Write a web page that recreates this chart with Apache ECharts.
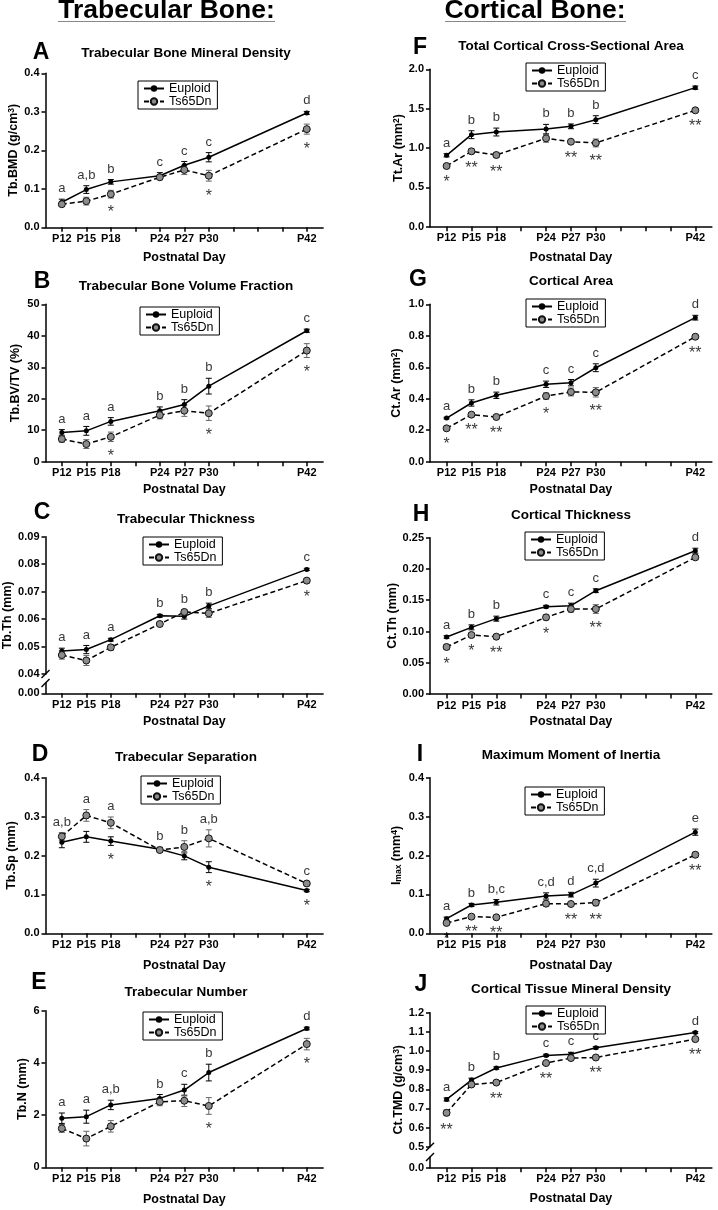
<!DOCTYPE html>
<html><head><meta charset="utf-8">
<script src="https://cdn.jsdelivr.net/npm/echarts@6/dist/echarts.min.js"></script>
<style>html,body{margin:0;padding:0;background:#fff}#c{width:718px;height:1210px}</style>
</head><body><div id="c"></div>
<script>
// ---------------- data ----------------
const days = [12, 15, 18, 24, 27, 30, 42];
const tickDays = [12, 15, 18, 21, 24, 27, 30, 33, 36, 39, 42];
const labelDays = [12, 15, 18, 24, 27, 30, 42];
const seriesNames = ['Euploid', 'Ts65Dn'];
const xAxisTitle = 'Postnatal Day';
const headers = ['Trabecular Bone:', 'Cortical Bone:'];

// A Trabecular Bone Mineral Density
const bmdEu = [0.065, 0.098, 0.118, 0.134, 0.161, 0.182, 0.297];
const bmdEuErr = [0.008, 0.010, 0.006, 0.008, 0.010, 0.012, 0.004];
const bmdTs = [0.060, 0.068, 0.086, 0.130, 0.149, 0.134, 0.255];
const bmdTsErr = [0.006, 0.010, 0.010, 0.006, 0.012, 0.014, 0.013];
const bmdLetters = ['a', 'a,b', 'b', 'c', 'c', 'c', 'd'];
const bmdStars = ['', '', '*', '', '', '*', '*'];

// B Trabecular Bone Volume Fraction
const bvEu = [9.3, 9.8, 12.8, 16.2, 18.2, 24.0, 41.6];
const bvEuErr = [0.9, 1.4, 1.2, 1.2, 1.5, 2.5, 0.5];
const bvTs = [7.2, 5.6, 7.9, 14.8, 16.2, 15.4, 35.3];
const bvTsErr = [1.0, 1.4, 1.5, 1.2, 1.8, 2.3, 2.2];
const bvLetters = ['a', 'a', 'a', 'b', 'b', 'b', 'c'];
const bvStars = ['', '', '*', '', '', '*', '*'];

// C Trabecular Thickness
const tbthEu = [0.0484, 0.0489, 0.0525, 0.0612, 0.0610, 0.0648, 0.0781];
const tbthEuErr = [0.0010, 0.0015, 0.0005, 0.0005, 0.0010, 0.0010, 0.0004];
const tbthTs = [0.0469, 0.0449, 0.0497, 0.0582, 0.0626, 0.0621, 0.0740];
const tbthTsErr = [0.0015, 0.0018, 0.0010, 0.0008, 0.0008, 0.0015, 0.0008];
const tbthLetters = ['a', 'a', 'a', 'b', 'b', 'b', 'c'];
const tbthStars = ['', '', '', '', '', '', '*'];

// D Trabecular Separation
const tbspEu = [0.234, 0.248, 0.237, 0.216, 0.199, 0.170, 0.110];
const tbspEuErr = [0.014, 0.014, 0.011, 0.005, 0.010, 0.014, 0.003];
const tbspTs = [0.249, 0.303, 0.284, 0.214, 0.222, 0.244, 0.128];
const tbspTsErr = [0.010, 0.015, 0.015, 0.005, 0.016, 0.022, 0.005];
const tbspLetters = ['a,b', 'a', 'a', 'b', 'b', 'a,b', 'c'];
const tbspStars = ['', '', '*', '', '', '*', '*'];

// E Trabecular Number
const tbnEu = [1.88, 1.94, 2.39, 2.64, 2.96, 3.63, 5.32];
const tbnEuErr = [0.20, 0.25, 0.18, 0.15, 0.22, 0.32, 0.05];
const tbnTs = [1.49, 1.10, 1.57, 2.51, 2.55, 2.35, 4.72];
const tbnTsErr = [0.15, 0.28, 0.22, 0.15, 0.22, 0.32, 0.22];
const tbnLetters = ['a', 'a', 'a,b', 'b', 'c', 'b', 'd'];
const tbnStars = ['', '', '', '', '', '*', '*'];

// F Total Cortical Cross-Sectional Area
const ttarEu = [0.907, 1.169, 1.203, 1.240, 1.275, 1.360, 1.767];
const ttarEuErr = [0.02, 0.05, 0.05, 0.06, 0.03, 0.05, 0.02];
const ttarTs = [0.771, 0.958, 0.911, 1.123, 1.080, 1.064, 1.479];
const ttarTsErr = [0.02, 0.03, 0.03, 0.05, 0.02, 0.05, 0.02];
const ttarLetters = ['a', 'b', 'b', 'b', 'b', 'b', 'c'];
const ttarStars = ['*', '**', '**', '', '**', '**', '**'];

// G Cortical Area
const ctarEu = [0.277, 0.373, 0.422, 0.492, 0.502, 0.597, 0.915];
const ctarEuErr = [0.005, 0.020, 0.020, 0.020, 0.020, 0.025, 0.015];
const ctarTs = [0.212, 0.299, 0.284, 0.417, 0.443, 0.441, 0.794];
const ctarTsErr = [0.005, 0.006, 0.010, 0.020, 0.025, 0.030, 0.010];
const ctarLetters = ['a', 'b', 'b', 'c', 'c', 'c', 'd'];
const ctarStars = ['*', '**', '**', '*', '', '**', '**'];

// H Cortical Thickness
const ctthEu = [0.0912, 0.1066, 0.1205, 0.1397, 0.1413, 0.1652, 0.2292];
const ctthEuErr = [0.002, 0.004, 0.004, 0.002, 0.004, 0.003, 0.004];
const ctthTs = [0.0752, 0.0943, 0.0917, 0.1226, 0.1359, 0.1359, 0.2186];
const ctthTsErr = [0.004, 0.003, 0.003, 0.004, 0.005, 0.007, 0.003];
const ctthLetters = ['a', 'b', 'b', 'c', 'c', 'c', 'd'];
const ctthStars = ['*', '*', '**', '*', '', '**', ''];

// I Maximum Moment of Inertia
const imaxEu = [0.0377, 0.0728, 0.0797, 0.0960, 0.0994, 0.129, 0.260];
const imaxEuErr = [0.004, 0.004, 0.007, 0.008, 0.006, 0.010, 0.008];
const imaxTs = [0.0266, 0.0428, 0.0411, 0.0762, 0.0754, 0.0788, 0.202];
const imaxTsErr = [0.004, 0.003, 0.003, 0.006, 0.004, 0.008, 0.006];
const imaxLetters = ['a', 'b', 'b,c', 'c,d', 'd', 'c,d', 'e'];
const imaxStars = ['*', '**', '**', '', '**', '**', '**'];

// J Cortical Tissue Mineral Density
const tmdEu = [0.747, 0.848, 0.911, 0.977, 0.983, 1.017, 1.097];
const tmdEuErr = [0.008, 0.010, 0.006, 0.006, 0.010, 0.006, 0.005];
const tmdTs = [0.677, 0.825, 0.835, 0.937, 0.963, 0.966, 1.062];
const tmdTsErr = [0.015, 0.010, 0.010, 0.008, 0.008, 0.008, 0.008];
const tmdLetters = ['a', 'b', 'b', 'c', 'c', 'c', 'd'];
const tmdStars = ['**', '', '**', '**', '', '**', '**'];

// ---------------- layout / style ----------------
const FF = '"Liberation Sans", Arial, Helvetica, sans-serif';
const cols = [{ left: 45.5, width: 277.6, titleX: 186 }, { left: 430, width: 281.9, titleX: 571 }];

const panels = [
  { tag: 'A', title: 'Trabecular Bone Mineral Density', yName: 'Tb.BMD (g/cm{sup|3})', eu: bmdEu, euErr: bmdEuErr, ts: bmdTs, tsErr: bmdTsErr, letters: bmdLetters, stars: bmdStars,
    col: 0, top: 73.3, bottom: 227.3, min: 0, max: 0.4, interval: 0.1, dec: 1, titleY: 53, tagXY: [41, 53], legend: [138, 81], nameGap: 25, xNameGap: 24 },
  { tag: 'B', title: 'Trabecular Bone Volume Fraction', yName: 'Tb.BV/TV (%)', eu: bvEu, euErr: bvEuErr, ts: bvTs, tsErr: bvTsErr, letters: bvLetters, stars: bvStars,
    col: 0, top: 304.3, bottom: 461.7, min: 0, max: 50, interval: 10, dec: 0, titleY: 286, tagXY: [42, 282], legend: [140, 307], nameGap: 23, xNameGap: 21 },
  { tag: 'C', title: 'Trabecular Thickness', yName: 'Tb.Th (mm)', eu: tbthEu, euErr: tbthEuErr, ts: tbthTs, tsErr: tbthTsErr, letters: tbthLetters, stars: tbthStars,
    col: 0, top: 536.7, bottom: 693.3, min: 0.04, max: 0.09, interval: 0.01, dec: 2, brk: { mainBottom: 674, stubTop: 683 }, titleY: 519, tagXY: [42, 513], legend: [143, 537], nameGap: 30, xNameGap: 22 },
  { tag: 'D', title: 'Trabecular Separation', yName: 'Tb.Sp (mm)', eu: tbspEu, euErr: tbspEuErr, ts: tbspTs, tsErr: tbspTsErr, letters: tbspLetters, stars: tbspStars,
    col: 0, top: 777.7, bottom: 933.3, min: 0, max: 0.4, interval: 0.1, dec: 1, titleY: 757, tagXY: [40, 755], legend: [141, 776], nameGap: 27, xNameGap: 26 },
  { tag: 'E', title: 'Trabecular Number', yName: 'Tb.N (mm)', eu: tbnEu, euErr: tbnEuErr, ts: tbnTs, tsErr: tbnTsErr, letters: tbnLetters, stars: tbnStars,
    col: 0, top: 1010.7, bottom: 1167.3, min: 0, max: 6, interval: 2, dec: 0, titleY: 992, tagXY: [39, 983], legend: [143, 1012], nameGap: 12, xNameGap: 26 },
  { tag: 'F', title: 'Total Cortical Cross-Sectional Area', yName: 'Tt.Ar (mm{sup|2})', eu: ttarEu, euErr: ttarEuErr, ts: ttarTs, tsErr: ttarTsErr, letters: ttarLetters, stars: ttarStars,
    col: 1, top: 69.3, bottom: 226.7, min: 0, max: 2, interval: 0.5, dec: 1, titleY: 46, tagXY: [420, 48], legend: [526, 63], nameGap: 22, xNameGap: 24 },
  { tag: 'G', title: 'Cortical Area', yName: 'Ct.Ar (mm{sup|2})', eu: ctarEu, euErr: ctarEuErr, ts: ctarTs, tsErr: ctarTsErr, letters: ctarLetters, stars: ctarStars,
    col: 1, top: 304.3, bottom: 461.7, min: 0, max: 1, interval: 0.2, dec: 1, titleY: 281, tagXY: [418, 280], legend: [526, 299], nameGap: 27, xNameGap: 21 },
  { tag: 'H', title: 'Cortical Thickness', yName: 'Ct.Th (mm)', eu: ctthEu, euErr: ctthEuErr, ts: ctthTs, tsErr: ctthTsErr, letters: ctthLetters, stars: ctthStars,
    col: 1, top: 537.7, bottom: 694, min: 0, max: 0.25, interval: 0.05, dec: 2, titleY: 515, tagXY: [421, 515], legend: [525, 532], nameGap: 30, xNameGap: 21 },
  { tag: 'I', title: 'Maximum Moment of Inertia', yName: 'I{sub|max} (mm{sup|4})', eu: imaxEu, euErr: imaxEuErr, ts: imaxTs, tsErr: imaxTsErr, letters: imaxLetters, stars: imaxStars,
    col: 1, top: 777.7, bottom: 933.3, min: 0, max: 0.4, interval: 0.1, dec: 1, titleY: 755, tagXY: [420, 755], legend: [525, 787], nameGap: 27, xNameGap: 26 },
  { tag: 'J', title: 'Cortical Tissue Mineral Density', yName: 'Ct.TMD (g/cm{sup|3})', eu: tmdEu, euErr: tmdEuErr, ts: tmdTs, tsErr: tmdTsErr, letters: tmdLetters, stars: tmdStars,
    col: 1, top: 1012.7, bottom: 1167.7, min: 0.5, max: 1.2, interval: 0.1, dec: 1, brk: { mainBottom: 1146.7, stubTop: 1157 }, titleY: 989, tagXY: [421, 985], legend: [526, 1006], nameGap: 25, xNameGap: 24 }
];

const axisLineStyle = { color: '#000', width: 1.5 };
const grids = [], xAxes = [], yAxes = [], series = [], legends = [], graphics = [];

function makeX(gi, show, p) {
  return {
    gridIndex: gi, type: 'value', min: 10, max: 44, show: show,
    axisLine: { show: true, onZero: false, lineStyle: axisLineStyle },
    axisTick: { show: true, customValues: tickDays, length: 4.5, lineStyle: axisLineStyle },
    axisLabel: { customValues: labelDays, formatter: v => 'P' + v, fontSize: 11, fontWeight: 'bold', color: '#000', margin: 6, fontFamily: FF },
    splitLine: { show: false },
    name: xAxisTitle, nameLocation: 'middle', nameGap: p.xNameGap,
    nameTextStyle: { fontSize: 12.5, fontWeight: 'bold', color: '#000', fontFamily: FF }
  };
}

function errSeries(gi, ys, es, color) {
  return {
    type: 'custom', name: 'err', xAxisIndex: gi, yAxisIndex: gi, silent: true, clip: false,
    data: days.map((d, i) => [d, ys[i] - es[i], ys[i] + es[i]]),
    renderItem: function (params, api) {
      const lo = api.coord([api.value(0), api.value(1)]);
      const hi = api.coord([api.value(0), api.value(2)]);
      const w = 3;
      const st = { stroke: color, lineWidth: 1 };
      return { type: 'group', children: [
        { type: 'line', shape: { x1: hi[0], y1: hi[1], x2: lo[0], y2: lo[1] }, style: st },
        { type: 'line', shape: { x1: hi[0] - w, y1: hi[1], x2: hi[0] + w, y2: hi[1] }, style: st },
        { type: 'line', shape: { x1: lo[0] - w, y1: lo[1], x2: lo[0] + w, y2: lo[1] }, style: st }
      ] };
    }
  };
}

panels.forEach(p => {
  const C = cols[p.col];
  const gi = grids.length;
  const mainBottom = p.brk ? p.brk.mainBottom : p.bottom;
  grids.push({ left: C.left, width: C.width, top: p.top, height: mainBottom - p.top });
  xAxes.push(makeX(gi, !p.brk, p));
  const rich = {
    sup: { fontSize: 8.5, fontWeight: 'bold', fontFamily: FF, color: '#000', verticalAlign: 'top' },
    sub: { fontSize: 8.5, fontWeight: 'bold', fontFamily: FF, color: '#000', verticalAlign: 'bottom' }
  };
  yAxes.push({
    gridIndex: gi, type: 'value', min: p.min, max: p.max, interval: p.interval,
    axisLine: { show: true, onZero: false, lineStyle: axisLineStyle },
    axisTick: { show: true, length: 4, lineStyle: axisLineStyle },
    axisLabel: { formatter: v => v.toFixed(p.dec), fontSize: 11, fontWeight: 'bold', color: '#000', margin: 6, fontFamily: FF },
    splitLine: { show: false },
    name: p.yName, nameLocation: 'middle', nameGap: p.nameGap, nameRotate: 90,
    nameTextStyle: { fontSize: 12.5, fontWeight: 'bold', color: '#000', fontFamily: FF, rich: rich, padding: p.brk ? [0, 20, 0, 0] : 0 }
  });
  if (p.brk) {
    const si = grids.length;
    grids.push({ left: C.left, width: C.width, top: p.brk.stubTop, height: p.bottom - p.brk.stubTop });
    xAxes.push(makeX(si, true, p));
    yAxes.push({
      gridIndex: si, type: 'value', min: 0, max: 1,
      axisLine: { show: true, onZero: false, lineStyle: axisLineStyle },
      axisTick: { show: true, length: 4, customValues: [0], lineStyle: axisLineStyle },
      axisLabel: { customValues: [0], formatter: v => v.toFixed(p.dec), fontSize: 11, fontWeight: 'bold', color: '#000', margin: 6, fontFamily: FF },
      splitLine: { show: false }
    });
    // axis break marks
    const ax = C.left;
    [mainBottom, p.brk.stubTop].forEach(yy => {
      graphics.push({ type: 'line', shape: { x1: ax - 4, y1: yy + 4, x2: ax + 4, y2: yy - 4 }, style: { stroke: '#000', lineWidth: 1.5 } });
    });
  }
  series.push(errSeries(gi, p.eu, p.euErr, '#000'));
  series.push(errSeries(gi, p.ts, p.tsErr, '#666'));
  series.push({
    type: 'line', name: seriesNames[0], xAxisIndex: gi, yAxisIndex: gi,
    data: days.map((d, i) => [d, p.eu[i]]), symbol: 'circle', symbolSize: 5,
    itemStyle: { color: '#000' }, lineStyle: { color: '#000', width: 1.5 }
  });
  series.push({
    type: 'line', name: seriesNames[1], xAxisIndex: gi, yAxisIndex: gi,
    data: days.map((d, i) => [d, p.ts[i]]), symbol: 'circle', symbolSize: 7,
    itemStyle: { color: '#8c8c8c', borderColor: '#111', borderWidth: 1 },
    lineStyle: { color: '#000', width: 1.5, type: [5, 3] }
  });
  series.push({
    type: 'scatter', name: 'letters', xAxisIndex: gi, yAxisIndex: gi, silent: true, symbolSize: 0,
    data: days.map((d, i) => ({ value: [d, Math.max(p.eu[i] + p.euErr[i], p.ts[i] + p.tsErr[i])], t: p.letters[i] })),
    label: { show: true, position: 'top', distance: 4, formatter: q => q.data.t, fontSize: 13, color: '#000', fontFamily: FF }
  });
  series.push({
    type: 'scatter', name: 'stars', xAxisIndex: gi, yAxisIndex: gi, silent: true, symbolSize: 0,
    data: days.map((d, i) => ({ value: [d, Math.min(p.eu[i] - p.euErr[i], p.ts[i] - p.tsErr[i])], t: p.stars[i] })).filter(o => o.t),
    label: { show: true, position: 'bottom', distance: 7, formatter: q => q.data.t, fontSize: 16, color: '#000', fontFamily: FF }
  });
  legends.push({
    left: p.legend[0], top: p.legend[1], orient: 'vertical', data: seriesNames, selectedMode: false,
    itemWidth: 20, itemHeight: 8, itemGap: 0, padding: [1, 6, 1, 5], borderColor: '#000', borderWidth: 1,
    textStyle: { fontSize: 12.5, color: '#000', lineHeight: 12, fontFamily: FF }
  });
  graphics.push({ type: 'text', x: C.titleX, y: p.titleY, style: { text: p.title, fontSize: 13.5, fontWeight: 'bold', fontFamily: FF, fill: '#000', align: 'center', verticalAlign: 'middle' } });
  graphics.push({ type: 'text', x: p.tagXY[0], y: p.tagXY[1], style: { text: p.tag, fontSize: 23, fontWeight: 'bold', fontFamily: FF, fill: '#000', align: 'center', verticalAlign: 'middle' } });
});

// column headers
[[166.5, headers[0]], [535, headers[1]]].forEach(([x, t]) => {
  graphics.push({ type: 'text', x: x, y: 11, style: { text: t, fontSize: 26.5, fontWeight: 'bold', fontFamily: FF, fill: '#000', align: 'center', verticalAlign: 'middle' } });
});
graphics.push({ type: 'line', shape: { x1: 58, y1: 21.5, x2: 275, y2: 21.5 }, style: { stroke: '#888', lineWidth: 1 } });
graphics.push({ type: 'line', shape: { x1: 445, y1: 21.5, x2: 626, y2: 21.5 }, style: { stroke: '#888', lineWidth: 1 } });

const chart = echarts.init(document.getElementById('c'), null, { renderer: 'canvas' });
chart.setOption({
  backgroundColor: '#fff', animation: false,
  grid: grids, xAxis: xAxes, yAxis: yAxes, series: series, legend: legends, graphic: graphics
});
</script>
</body></html>
